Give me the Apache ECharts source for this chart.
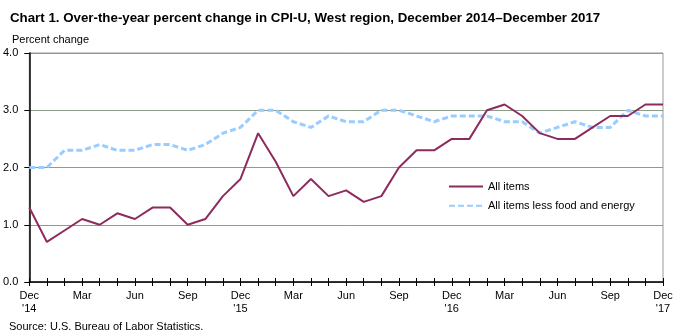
<!DOCTYPE html>
<html><head><meta charset="utf-8">
<script src="https://cdn.jsdelivr.net/npm/echarts@6/dist/echarts.min.js"></script>
<style>html,body{margin:0;padding:0;background:#fff}#c{width:681px;height:336px}</style>
</head><body><div id="c"></div>
<script>
const months = ["Dec\n'14","Jan","Feb","Mar","Apr","May","Jun","Jul","Aug","Sep","Oct","Nov",
"Dec\n'15","Jan","Feb","Mar","Apr","May","Jun","Jul","Aug","Sep","Oct","Nov",
"Dec\n'16","Jan","Feb","Mar","Apr","May","Jun","Jul","Aug","Sep","Oct","Nov",
"Dec\n'17"];
const allItems = [1.3,0.7,0.9,1.1,1.0,1.2,1.1,1.3,1.3,1.0,1.1,1.5,
1.8,2.6,2.1,1.5,1.8,1.5,1.6,1.4,1.5,2.0,2.3,2.3,
2.5,2.5,3.0,3.1,2.9,2.6,2.5,2.5,2.7,2.9,2.9,3.1,3.1];
const core = [2.0,2.0,2.3,2.3,2.4,2.3,2.3,2.4,2.4,2.3,2.4,2.6,
2.7,3.0,3.0,2.8,2.7,2.9,2.8,2.8,3.0,3.0,2.9,2.8,
2.9,2.9,2.9,2.8,2.8,2.6,2.7,2.8,2.7,2.7,3.0,2.9,2.9];
const yTicks = [0,1,2,3,4];

const F = "'Liberation Sans', Arial, sans-serif";
const chart = echarts.init(document.getElementById('c'), null, {renderer:'canvas'});
chart.setOption({
  animation:false,
  title:[
    {text:'Chart 1. Over-the-year percent change in CPI-U, West region, December 2014\u2013December 2017',
     left:5, top:7, textStyle:{fontFamily:F, fontSize:13.3, fontWeight:'bold', color:'#000'}},
    {text:'Percent change', left:7, top:29, textStyle:{fontFamily:F, fontSize:11, fontWeight:'normal', color:'#000'}},
    {text:'Source: U.S. Bureau of Labor Statistics.', left:4, top:316, textStyle:{fontFamily:F, fontSize:11, fontWeight:'normal', color:'#000'}}
  ],
  grid:{left:27, right:18, top:53, bottom:54, show:true, borderColor:'#999999', borderWidth:1},
  legend:{
    orient:'vertical', left:448, top:181, padding:0, itemWidth:34, itemHeight:14, itemGap:8,
    itemStyle:{opacity:0},
    textStyle:{fontFamily:F, fontSize:11, color:'#000'},
    data:['All items','All items less food and energy']
  },
  xAxis:[
    {type:'category', data:months, boundaryGap:false,
     axisLine:{lineStyle:{color:'#000', width:1.5}},
     axisTick:{show:true, interval:0, length:4, inside:false, lineStyle:{color:'#000'}},
     axisLabel:{interval:2, margin:7, fontFamily:F, fontSize:11, color:'#000', lineHeight:13},
     splitLine:{show:false}},
    {type:'category', data:months, boundaryGap:false, position:'bottom',
     axisLine:{show:false},
     axisTick:{show:true, interval:0, length:4, inside:true, lineStyle:{color:'#000'}},
     axisLabel:{show:false}, splitLine:{show:false}}
  ],
  yAxis:{type:'value', min:yTicks[0], max:yTicks[yTicks.length-1], interval:1,
    axisLine:{show:true, lineStyle:{color:'#000', width:1.5}},
    axisTick:{show:true, length:5, lineStyle:{color:'#000'}},
    axisLabel:{margin:11, fontFamily:F, fontSize:11, color:'#000', formatter:v=>v.toFixed(1)},
    splitLine:{show:true, lineStyle:{color:'#8f9c88', width:1}}
  },
  series:[
    {name:'All items', type:'line', data:allItems, symbol:'none', showSymbol:false,
     lineStyle:{color:'#8e2b5e', width:2}, itemStyle:{color:'#8e2b5e'}, z:3},
    {name:'All items less food and energy', type:'line', data:core, symbol:'none', showSymbol:false,
     lineStyle:{color:'#99ccff', width:3, type:[6,3]}, itemStyle:{color:'#99ccff'}, z:2}
  ]
});
</script></body></html>
